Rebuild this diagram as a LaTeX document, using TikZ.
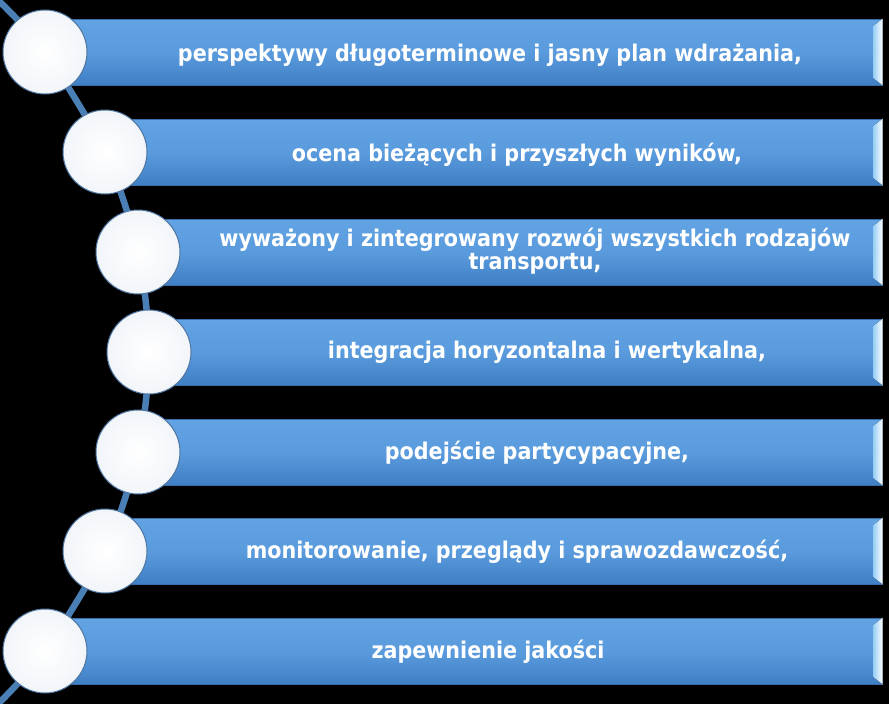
\documentclass[tikz,border=0pt]{standalone}
\usepackage{fontspec}
\setmainfont{DejaVu Sans Condensed}
\usetikzlibrary{calc}
\definecolor{bartop}{HTML}{62A3E4}
\definecolor{barmid}{HTML}{5A9BDD}
\definecolor{barbot}{HTML}{3F7EC4}
\definecolor{baredge}{HTML}{3A6EA8}
\definecolor{bevL}{HTML}{9CD0F6}
\definecolor{ballouter}{HTML}{F2F5F9}
\definecolor{balledge}{HTML}{4E76A2}
\definecolor{spinecol}{HTML}{4A7FB5}
\newcommand\mytightlines{\lineskiplimit=-60pt\relax}
\begin{document}
\begin{tikzpicture}[x=1pt,y=-1pt,
  ball/.style={circle, minimum size=84pt, inner sep=0pt, draw=balledge, line width=1pt, inner color=white, outer color=ballouter},
  bar/.style={rectangle, anchor=west, minimum height=66pt, inner sep=0pt, top color=bartop, bottom color=barbot, middle color=barmid, draw=baredge, line width=0.6pt},
  lbl/.style={text=white, font=\bfseries\fontsize{23}{20}\selectfont\mytightlines, anchor=base, align=center, inner sep=0pt},
  spine/.style={draw=spinecol, line width=6.5pt}
]
\fill[black] (0,0) rectangle (889,704);
\useasboundingbox (0,0) rectangle (889,704);
\coordinate (top) at (-2,0);
\coordinate (bot) at (-2,704);
\foreach \i/\cx/\cy in {1/45/52,2/105/152,3/138/252,4/149/352,5/138/452,6/105/551,7/45/651}{
  \coordinate (p\i) at (\cx,\cy);
}
\draw[spine] plot[smooth] coordinates {(top) (p1) (p2) (p3) (p4) (p5) (p6) (p7) (bot)};
\foreach \i/\cx/\cy in {1/45/52,2/105/152,3/138/252,4/149/352,5/138/452,6/105/551,7/45/651}{
  \node[bar, minimum width={(882-\cx)*1pt}] (b\i) at (\cx,\cy) {};
  \fill[left color=bevL, right color=white]
    ($(b\i.north east)+(-9,7)$) -- (b\i.north east) -- (b\i.south east) -- ($(b\i.south east)+(-9,-7)$) -- cycle;
}
\foreach \i in {1,...,7}{
  \node[ball] (c\i) at (p\i) {};
}
\node[lbl] (t1) at (490,61) {perspektywy długoterminowe i jasny plan wdrażania,};
\node[lbl] (t2) at (517,161) {ocena bieżących i przyszłych wyników,};
\node[lbl] (t3) at (535,269) {wyważony i zintegrowany rozwój wszystkich rodzajów\\[3pt]transportu,};
\node[lbl] (t4) at (547,358) {integracja horyzontalna i wertykalna,};
\node[lbl] (t5) at (537,459) {podejście partycypacyjne,};
\node[lbl] (t6) at (517,558) {monitorowanie, przeglądy i sprawozdawczość,};
\node[lbl] (t7) at (488,658) {zapewnienie jakości};
\end{tikzpicture}
\end{document}
